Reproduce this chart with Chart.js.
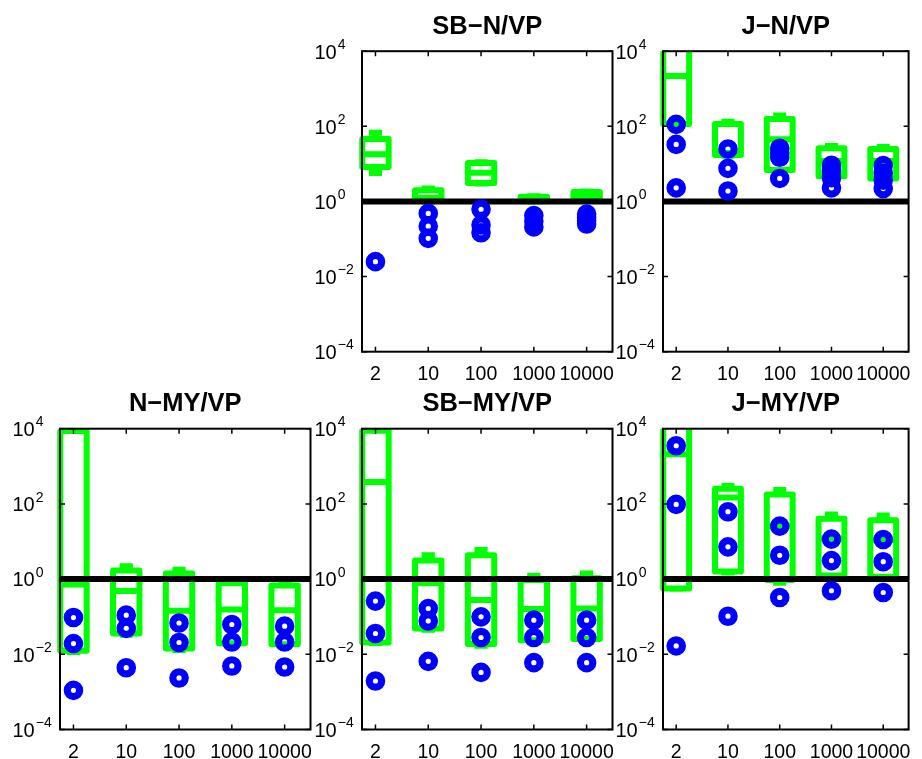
<!DOCTYPE html>
<html>
<head>
<meta charset="utf-8">
<title>Boxplots</title>
<script src="https://cdn.jsdelivr.net/npm/chart.js"></script>
<style>
  html, body { margin: 0; padding: 0; background: #fff; }
  #wrap { position: relative; width: 922px; height: 759px; }
  #wrap canvas { position: absolute; left: 0; top: 0; }
</style>
</head>
<body>
<div id="wrap"></div>
<script>
// categories and tick labels
const categories = ['2', '10', '100', '1000', '10000'];
const yTickExponents = [-4, -2, 0, 2, 4];
const titles = ['SB−N/VP', 'J−N/VP', 'N−MY/VP', 'SB−MY/VP', 'J−MY/VP'];

// box stats per category: [lower whisker, q1, median, q3, upper whisker]
const sbnBoxes = [
    [5.7, 8.3, 18, 46, 67],
    [1.0, 1.05, 1.25, 2.0, 2.2],
    [3.0, 3.1, 5.8, 10.6, 11],
    [1.0, 1.02, 1.15, 1.33, 1.38],
    [1.1, 1.16, 1.4, 1.78, 1.85]
];
const sbnDots = [
    [0.025],
    [0.48, 0.22, 0.104],
    [0.62, 0.236, 0.147],
    [0.42, 0.30, 0.21],
    [0.46, 0.38, 0.31, 0.25]
];

const jnBoxes = [
    [110, 116, 2200, 20000, 30000],
    [16.5, 17.3, 19.8, 116, 132],
    [6.5, 6.9, 45, 157, 195],
    [4.5, 4.7, 12, 26, 30],
    [3.9, 4.1, 12, 25, 28]
];
const jnDots = [
    [113, 33, 2.3],
    [24.9, 7.6, 1.9],
    [26, 19, 15, 4.1],
    [9.2, 6.3, 4.3, 2.3],
    [9, 5.6, 3.7, 2.2]
];

const nmyBoxes = [
    [0.0115, 0.0124, 0.72, 8700, 8700],
    [0.033, 0.0357, 0.48, 1.7, 2.2],
    [0.013, 0.0142, 0.143, 1.41, 1.76],
    [0.018, 0.0197, 0.156, 0.78, 1.0],
    [0.017, 0.0185, 0.149, 0.68, 0.88]
];
const nmyDots = [
    [0.095, 0.0193, 0.0011],
    [0.11, 0.049, 0.0044],
    [0.068, 0.0206, 0.00235],
    [0.062, 0.0213, 0.0049],
    [0.056, 0.0213, 0.0046]
];

const sbmyBoxes = [
    [0.02, 0.0206, 380, 8850, 8850],
    [0.045, 0.0485, 0.77, 3.1, 4.3],
    [0.017, 0.0189, 0.28, 4.3, 5.9],
    [0.022, 0.0237, 0.161, 0.94, 1.22],
    [0.024, 0.0256, 0.166, 1.06, 1.41]
];
const sbmyDots = [
    [0.26, 0.0357, 0.00195],
    [0.165, 0.077, 0.0065],
    [0.099, 0.028, 0.0033],
    [0.081, 0.028, 0.006],
    [0.081, 0.028, 0.006]
];

const jmyBoxes = [
    [0.55, 0.56, 2100, 20000, 30000],
    [1.5, 1.6, 149, 253, 298],
    [0.8, 0.94, 25.7, 179, 233],
    [1.2, 1.25, 12.1, 40, 52],
    [1.1, 1.15, 10.9, 37, 49]
];
const jmyDots = [
    [3520, 97, 0.0167],
    [62, 7.2, 0.103],
    [25.7, 4.3, 0.324],
    [11.6, 3.1, 0.49],
    [11.3, 2.9, 0.44]
];

const allBoxes = [sbnBoxes, jnBoxes, nmyBoxes, sbmyBoxes, jmyBoxes];
const allDots = [sbnDots, jnDots, nmyDots, sbmyDots, jmyDots];

// layout (pixels)
const W = 922, H = 759;
const panelCol = [1, 2, 0, 1, 2];
const panelRow = [0, 0, 1, 1, 1];
const colLeft = [60, 362, 663];
const colRight = [310.5, 612.5, 913.7];
const rowTop = [51.2, 428.7];
const rowBottom = [351.7, 729.5];

const FONT = '"Liberation Sans", Arial, Helvetica, sans-serif';
const BOX_HALF = 0.25;
const CAP_HALF = 0.125;

function boxPath(boxes) {
    const pts = [];
    boxes.forEach((b, i) => {
        const x = i + 1;
        const [lo, q1, med, q3, hi] = b;
        // box outline, starting mid-edge so the butt ends meet cleanly
        pts.push({x: x, y: q1}, {x: x + BOX_HALF, y: q1}, {x: x + BOX_HALF, y: q3},
                 {x: x - BOX_HALF, y: q3}, {x: x - BOX_HALF, y: q1}, {x: x, y: q1}, {x: x, y: null});
        pts.push({x: x - BOX_HALF, y: med}, {x: x + BOX_HALF, y: med}, {x: x, y: null});
        pts.push({x: x, y: q3}, {x: x, y: hi}, {x: x, y: null});
        pts.push({x: x - CAP_HALF, y: hi}, {x: x + CAP_HALF, y: hi}, {x: x, y: null});
        pts.push({x: x, y: q1}, {x: x, y: lo}, {x: x, y: null});
        pts.push({x: x - CAP_HALF, y: lo}, {x: x + CAP_HALF, y: lo}, {x: x, y: null});
    });
    return pts;
}

function dotPoints(dots) {
    const pts = [];
    dots.forEach((vals, i) => vals.forEach(v => pts.push({x: i + 1, y: v})));
    return pts;
}

const axesDecor = {
    id: 'axesDecor',
    afterDatasetsDraw(chart, args, opts) {
        const ctx = chart.ctx;
        const a = chart.chartArea;
        const xs = chart.scales.x, ys = chart.scales.y;
        ctx.save();
        ctx.strokeStyle = '#000';
        ctx.lineWidth = 2;
        ctx.strokeRect(a.left, a.top, a.right - a.left, a.bottom - a.top);

        // inward ticks on all four sides
        ctx.lineWidth = 1.5;
        ctx.beginPath();
        categories.forEach((c, i) => {
            const px = xs.getPixelForValue(i + 1);
            ctx.moveTo(px, a.bottom); ctx.lineTo(px, a.bottom - 5);
            ctx.moveTo(px, a.top); ctx.lineTo(px, a.top + 5);
        });
        yTickExponents.forEach(e => {
            const py = ys.getPixelForValue(Math.pow(10, e));
            ctx.moveTo(a.left, py); ctx.lineTo(a.left + 5, py);
            ctx.moveTo(a.right, py); ctx.lineTo(a.right - 5, py);
        });
        ctx.stroke();

        ctx.fillStyle = '#000';
        ctx.textBaseline = 'alphabetic';

        // x tick labels
        ctx.font = '19.5px ' + FONT;
        ctx.textAlign = 'center';
        categories.forEach((c, i) => {
            ctx.fillText(c, xs.getPixelForValue(i + 1), a.bottom + 28);
        });

        // y tick labels: "10" plus a raised exponent
        ctx.textAlign = 'left';
        yTickExponents.forEach(e => {
            const py = ys.getPixelForValue(Math.pow(10, e));
            const bx = a.left - 47.5;
            ctx.font = '20px ' + FONT;
            ctx.fillText('10', bx, py + 7.3);
            const w = ctx.measureText('10').width;
            ctx.font = '14px ' + FONT;
            ctx.fillText(e < 0 ? '−' + (-e) : String(e), bx + w + 1, py - 2.3);
        });

        // title
        ctx.font = 'bold 25.5px ' + FONT;
        ctx.textAlign = 'center';
        ctx.fillText(opts.title, (a.left + a.right) / 2, a.top - 17.5);
        ctx.restore();
    }
};

const wrap = document.getElementById('wrap');

titles.forEach((title, p) => {
    const canvas = document.createElement('canvas');
    canvas.width = W;
    canvas.height = H;
    wrap.appendChild(canvas);

    const c = panelCol[p], r = panelRow[p];

    new Chart(canvas.getContext('2d'), {
        type: 'line',
        data: {
            datasets: [
                {
                    label: 'points',
                    data: dotPoints(allDots[p]),
                    showLine: false,
                    pointStyle: 'circle',
                    pointRadius: 6.2,
                    pointBorderWidth: 7.2,
                    pointBorderColor: '#0000ff',
                    pointBackgroundColor: 'rgba(0,0,0,0)',
                    order: 0
                },
                {
                    label: 'unity',
                    data: [{x: 0.745, y: 1}, {x: 5.49, y: 1}],
                    borderColor: '#000',
                    borderWidth: 6,
                    pointRadius: 0,
                    order: 1
                },
                {
                    label: 'boxes',
                    data: boxPath(allBoxes[p]),
                    borderColor: '#00ff00',
                    borderWidth: 6,
                    borderJoinStyle: 'round',
                    borderCapStyle: 'butt',
                    pointRadius: 0,
                    spanGaps: false,
                    clip: {left: 3, top: 0, right: 3, bottom: 0},
                    order: 2
                }
            ]
        },
        options: {
            responsive: false,
            animation: false,
            devicePixelRatio: 1,
            events: [],
            layout: {
                padding: {
                    left: colLeft[c],
                    right: W - colRight[c],
                    top: rowTop[r],
                    bottom: H - rowBottom[r]
                }
            },
            elements: { line: { tension: 0 } },
            plugins: {
                legend: { display: false },
                tooltip: { enabled: false },
                axesDecor: { title: title }
            },
            scales: {
                x: { type: 'linear', min: 0.745, max: 5.49, display: false },
                y: { type: 'logarithmic', min: 1e-4, max: 1e4, display: false }
            }
        },
        plugins: [axesDecor]
    });
});
</script>
</body>
</html>
